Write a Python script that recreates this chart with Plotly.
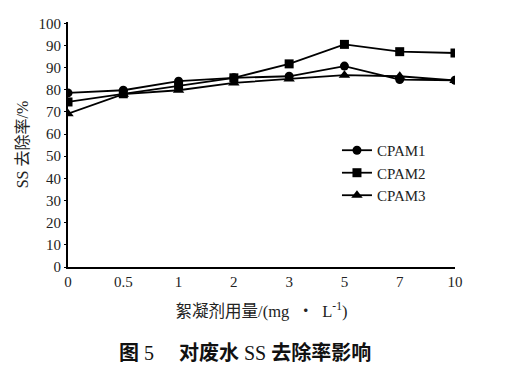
import plotly.graph_objects as go

doses = ["0", "0.5", "1", "2", "3", "5", "7", "10"]
cpam1 = [78.6, 79.8, 83.9, 85.4, 86.1, 90.7, 84.6, 84.3]
cpam2 = [74.5, 78.2, 82.0, 85.4, 91.7, 100.5, 97.2, 96.6]
cpam3 = [69.2, 78.0, 79.8, 83.1, 84.9, 86.6, 86.1, 84.2]
ytick_vals = [0, 10, 20, 30, 40, 50, 60, 70, 80, 90, 100, 110]
ytick_text = ["0", "10", "20", "30", "40", "50", "60", "70", "80", "90", "90", "100"]

FONT = "Liberation Serif, Noto Sans CJK SC, serif"

fig = go.Figure()
series = [("CPAM1", cpam1, "circle", 9), ("CPAM2", cpam2, "square", 9), ("CPAM3", cpam3, "triangle-up", 10)]
for name, vals, sym, sz in series:
    fig.add_trace(go.Scatter(
        x=doses, y=vals, name=name, mode="lines+markers",
        line=dict(color="black", width=1.8),
        marker=dict(symbol=sym, size=sz, color="black"),
    ))

fig.update_layout(
    width=511, height=364,
    margin=dict(l=60, r=64, t=14, b=105),
    paper_bgcolor="white", plot_bgcolor="white",
    font=dict(family=FONT, size=15, color="#222"),
    showlegend=True,
    legend=dict(x=0.695, y=0.543, xanchor="left", yanchor="top",
                bgcolor="rgba(0,0,0,0)", font=dict(size=15, family=FONT),
                tracegroupgap=0, itemwidth=30),
    xaxis=dict(type="category", range=[0, 7], showline=True, linecolor="black",
               linewidth=2, showgrid=False, ticks="", zeroline=False, automargin=False,
               tickfont=dict(size=15, family=FONT),
               title=dict(text="絮凝剂用量/(mg\u00a0 ・ \u00a0L<sup>-1</sup>)", font=dict(size=16.5, family=FONT), standoff=16)),
    yaxis=dict(range=[0, 110.6], showline=True, linecolor="black", linewidth=2,
               showgrid=False, zeroline=False, ticks="outside", ticklen=2, automargin=False,
               tickcolor="black", tickvals=ytick_vals, ticktext=ytick_text,
               tickfont=dict(size=15, family=FONT),
               title=dict(text="SS 去除率/%", font=dict(size=16, family=FONT), standoff=6)),
)

fig.add_annotation(
    text="<b>图</b> 5\u3000 <b>对废水</b> SS <b>去除率影响</b>",
    xref="paper", yref="paper", x=0.1266, y=-0.347, xanchor="left", yanchor="middle",
    showarrow=False, font=dict(size=20, family=FONT, color="#111"),
)

fig.write_html("out.html")
